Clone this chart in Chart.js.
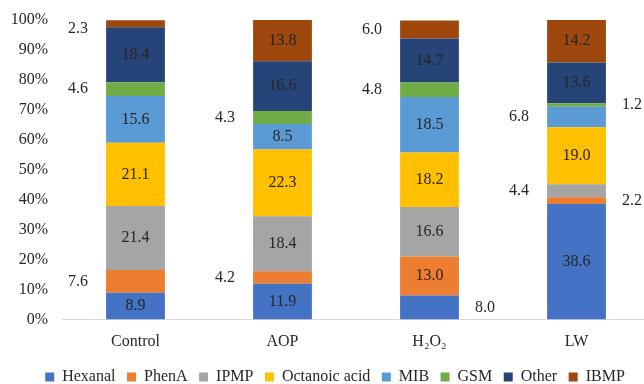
<!DOCTYPE html>
<html>
<head>
<meta charset="utf-8">
<script src="https://cdn.jsdelivr.net/npm/chart.js@4/dist/chart.umd.min.js"></script>
<style>
  html, body { margin: 0; padding: 0; background: #fff; overflow: hidden; }
  #wrap { width: 670px; height: 384px; }
</style>
</head>
<body>
<div id="wrap"><canvas id="bars" width="670" height="384"></canvas></div>
<script>
  // Share of each odour compound per treatment (%)
  const categories = ['Control', 'AOP', 'H₂O₂', 'LW'];
  const hexanal = [8.9, 11.9, 8.0, 38.6];
  const phenA = [7.6, 4.2, 13.0, 2.2];
  const ipmp = [21.4, 18.4, 16.6, 4.4];
  const octanoicAcid = [21.1, 22.3, 18.2, 19.0];
  const mib = [15.6, 8.5, 18.5, 6.8];
  const gsm = [4.6, 4.3, 4.8, 1.2];
  const other = [18.4, 16.6, 14.7, 13.6];
  const ibmp = [2.3, 13.8, 6.0, 14.2];
  const yTicks = [0, 10, 20, 30, 40, 50, 60, 70, 80, 90, 100];

  // Small segments get their label beside the bar instead of inside
  const outsideLabels = {
    'PhenA': ['left', 'left', null, 'right'],
    'IPMP': [null, null, null, 'left'],
    'MIB': [null, null, null, 'left'],
    'GSM': ['left', 'left', 'left', 'right'],
    'IBMP': ['left', null, 'left', null],
    'Hexanal': [null, null, 'right', null],
  };

  const FONT = "'Liberation Serif', 'Times New Roman', serif";
  const TEXT = '#262626';

  const series = [
    { label: 'Hexanal', data: hexanal, color: '#4472C4' },
    { label: 'PhenA', data: phenA, color: '#ED7D31' },
    { label: 'IPMP', data: ipmp, color: '#A5A5A5' },
    { label: 'Octanoic acid', data: octanoicAcid, color: '#FFC000' },
    { label: 'MIB', data: mib, color: '#5B9BD5' },
    { label: 'GSM', data: gsm, color: '#70AD47' },
    { label: 'Other', data: other, color: '#264478' },
    { label: 'IBMP', data: ibmp, color: '#9E480E' },
  ];

  // draws the value of every segment
  const valueLabels = {
    id: 'valueLabels',
    afterDatasetsDraw(chart) {
      const ctx = chart.ctx;
      const area = chart.chartArea;
      ctx.save();
      ctx.font = '16px ' + FONT;
      ctx.fillStyle = TEXT;
      ctx.textBaseline = 'middle';
      ctx.textAlign = 'center';
      chart.data.datasets.forEach((ds, di) => {
        const meta = chart.getDatasetMeta(di);
        const sides = outsideLabels[ds.label] || [];
        meta.data.forEach((bar, i) => {
          const p = bar.getProps(['x', 'y', 'base', 'width'], true);
          let y = (p.y + p.base) / 2;
          y = Math.max(y, area.top + 9);
          let x = p.x;
          const side = sides[i];
          if (side === 'left') x = p.x - p.width / 2 - 28;
          if (side === 'right') x = p.x + p.width / 2 + 26;
          ctx.fillText(ds.data[i].toFixed(1), x, y);
        });
      });
      ctx.restore();
    }
  };

  // legend sits a little right of the canvas centre
  const legendShift = {
    id: 'legendShift',
    afterLayout(chart) {
      chart.legend.left += 20;
    }
  };

  const config = {
    type: 'bar',
    data: {
      labels: categories,
      datasets: series.map(s => ({
        label: s.label,
        data: s.data,
        backgroundColor: s.color,
        borderWidth: 0,
        categoryPercentage: 1,
        barPercentage: 0.4,
      })),
    },
    options: {
      responsive: false,
      animation: false,
      layout: { padding: { left: 0, top: 20, right: 20, bottom: -11 } },
      plugins: {
        tooltip: { enabled: false },
        legend: {
          position: 'bottom',
          labels: {
            boxWidth: 9,
            boxHeight: 9,
            padding: 11.5,
            color: TEXT,
            font: { family: FONT, size: 16 },
          },
        },
      },
      scales: {
        x: {
          stacked: true,
          grid: { display: false, drawTicks: false },
          border: { display: true, color: '#D9D9D9', width: 1 },
          ticks: { color: TEXT, font: { family: FONT, size: 16 }, padding: 13 },
          afterFit: s => { s.height = 38; },
        },
        y: {
          stacked: true,
          min: 0,
          max: 100,
          grid: { display: false, drawTicks: false },
          border: { display: false },
          afterBuildTicks: s => { s.ticks = yTicks.map(v => ({ value: v })); },
          ticks: {
            color: TEXT,
            font: { family: FONT, size: 16 },
            padding: 14,
            callback: v => v + '%',
          },
          afterFit: s => {
            s.width = 62;
            s.paddingTop = 0;
            s.paddingBottom = 0;
          },
        },
      },
    },
    plugins: [valueLabels, legendShift],
  };

  new Chart(document.getElementById('bars'), config);
</script>
</body>
</html>
